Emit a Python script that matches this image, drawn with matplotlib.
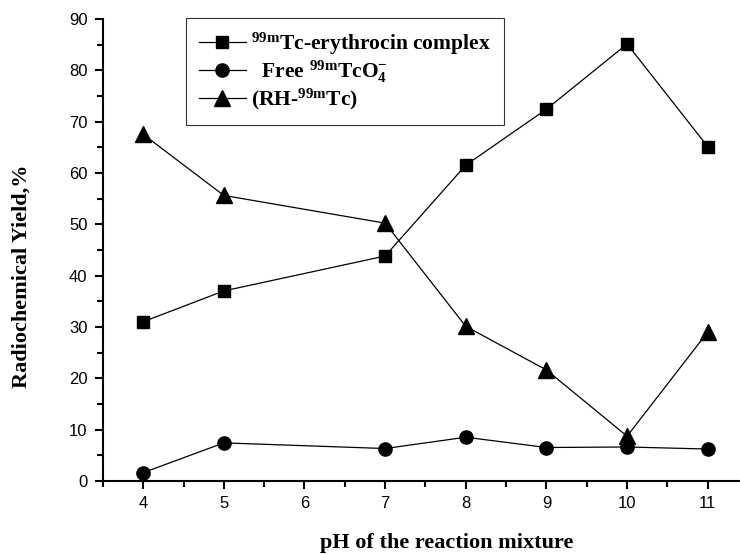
import numpy as np
import matplotlib
matplotlib.use("Agg")
from matplotlib import pyplot as plt
from matplotlib.ticker import MultipleLocator

ph = [4, 5, 7, 8, 9, 10, 11]
complex_yield = [31.0, 37.0, 43.8, 61.5, 72.4, 85.1, 65.1]
free_tco4 = [1.6, 7.4, 6.3, 8.5, 6.5, 6.6, 6.2]
rh_tc = [67.5, 55.6, 50.2, 30.1, 21.6, 8.7, 29.0]

labels = [r"$^{\mathrm{99m}}$Tc-erythrocin complex",
          r"  Free $^{\mathrm{99m}}$TcO$_{\mathrm{4}}^{\mathrm{-}}$",
          r"(RH-$^{\mathrm{99m}}$Tc)"]

plt.rcParams['mathtext.fontset'] = 'custom'
plt.rcParams['mathtext.rm'] = 'Liberation Serif:bold'
plt.rcParams['mathtext.it'] = 'Liberation Serif:bold'
plt.rcParams['mathtext.bf'] = 'Liberation Serif:bold'

fig = plt.figure(figsize=(7.4, 5.54), dpi=100)
ax = fig.add_axes([0.139, 0.132, 0.861, 0.834])

ax.plot(ph, complex_yield, 'k-', marker='s', ms=8.5, lw=0.9, label=labels[0])
ax.plot(ph, free_tco4, 'k-', marker='o', ms=9.5, lw=0.9, label=labels[1])
ax.plot(ph, rh_tc, 'k-', marker='^', ms=11, lw=0.9, label=labels[2])

ax.set_xlim(3.5, 11.4)
ax.set_ylim(0, 90)
ax.xaxis.set_major_locator(MultipleLocator(1))
ax.xaxis.set_minor_locator(MultipleLocator(0.5))
ax.yaxis.set_major_locator(MultipleLocator(10))
ax.yaxis.set_minor_locator(MultipleLocator(5))
ax.tick_params(which='major', direction='out', length=6, width=1.5, pad=5)
ax.tick_params(which='minor', direction='out', length=4, width=1.5)
for lab in ax.get_xticklabels() + ax.get_yticklabels():
    lab.set_family('Liberation Sans')
    lab.set_fontsize(12)
ax.spines['top'].set_visible(False)
ax.spines['right'].set_visible(False)
ax.spines['left'].set_linewidth(1.5)
ax.spines['bottom'].set_linewidth(1.5)

# axis titles placed in figure pixels like the reference
fig.text(447 / 740, 1 - 548 / 554, 'pH of the reaction mixture',
         family='Liberation Serif', fontweight='bold', fontsize=16,
         ha='center', va='baseline')
fig.text(22 / 740, 1 - 276 / 554, 'Radiochemical Yield,%',
         family='Liberation Serif', fontweight='bold', fontsize=16,
         ha='center', va='center', rotation=90)

leg = ax.legend(loc='upper left', bbox_to_anchor=(0.130, 1.002),
                prop={'family': 'Liberation Serif', 'weight': 'bold', 'size': 15.5},
                frameon=True, fancybox=False, edgecolor='black',
                handlelength=2.2, handletextpad=0.25, borderpad=0.6,
                labelspacing=0.08, borderaxespad=0)
leg.get_frame().set_linewidth(0.8)

plt.savefig('out.png', dpi=100)
